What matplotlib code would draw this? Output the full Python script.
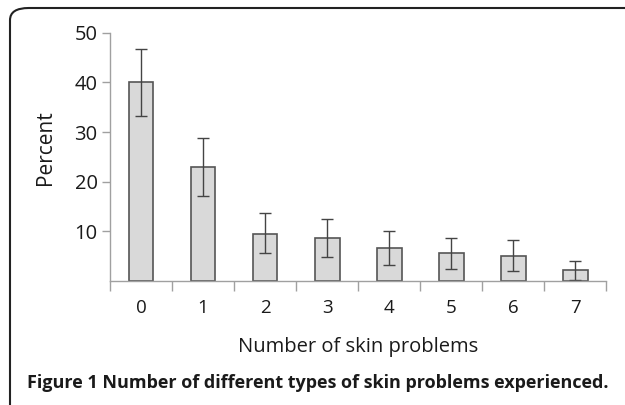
import matplotlib.pyplot as plt
from matplotlib.patches import FancyBboxPatch
import numpy as np

# data
categories = ['0', '1', '2', '3', '4', '5', '6', '7']
percent = [40.0, 23.0, 9.5, 8.6, 6.6, 5.6, 5.0, 2.2]
err_low = [33.3, 17.2, 5.6, 4.8, 3.2, 2.4, 2.1, 0.3]
err_high = [46.7, 28.8, 13.7, 12.5, 10.1, 8.7, 8.2, 4.1]
y_ticks = [10, 20, 30, 40, 50]

plt.rcParams['font.family'] = ['Open Sans', 'DejaVu Sans']

fig = plt.figure(figsize=(6.25, 4.05), dpi=100)
ax = fig.add_axes([0.176, 0.306, 0.794, 0.613])

x = np.arange(len(categories))
yerr = [np.array(percent) - np.array(err_low), np.array(err_high) - np.array(percent)]
ax.bar(x, percent, width=0.4, color='#d9d9d9', edgecolor='#555555', linewidth=1.2,
       yerr=yerr, error_kw=dict(ecolor='#444444', elinewidth=1.0, capsize=4, capthick=1.0))

ax.set_xlim(-0.5, 7.5)
ax.set_ylim(0, 50)
ax.set_yticks(y_ticks)
ax.set_xticks(x)
ax.set_xticklabels(categories)
ax.set_xticks(np.arange(-0.5, 8.0, 1.0), minor=True)
ax.tick_params(axis='x', which='major', length=0, pad=13, labelsize=13.5, labelcolor='#1a1a1a')
ax.tick_params(axis='x', which='minor', length=7, color='#a0a0a0', width=1.0)
ax.tick_params(axis='y', length=6, color='#a0a0a0', width=1.0, labelsize=14.5, pad=3,
               labelcolor='#1a1a1a')

for s in ['top', 'right']:
    ax.spines[s].set_visible(False)
for s in ['left', 'bottom']:
    ax.spines[s].set_color('#a0a0a0')
    ax.spines[s].set_linewidth(1.0)

ax.set_ylabel('Percent', fontsize=15, color='#1a1a1a')
ax.yaxis.set_label_coords(-0.109, 0.536)
ax.set_xlabel('Number of skin problems', fontsize=14.5, labelpad=14, color='#1a1a1a')

# rounded frame around the figure
frame = FancyBboxPatch((10 / 625, -0.05), 1.1, (405 - 8) / 405 + 0.05,
                       boxstyle='round,pad=0,rounding_size=0.03',
                       transform=fig.transFigure, facecolor='none',
                       edgecolor='#222222', linewidth=1.5, clip_on=False)
fig.patches.append(frame)

fig.text(27 / 625, 1 - 383 / 405, 'Figure 1 Number of different types of skin problems experienced.',
         fontsize=13, fontweight='bold', va='center', ha='left', color='#1a1a1a')

fig.savefig('out.png', dpi=100)
